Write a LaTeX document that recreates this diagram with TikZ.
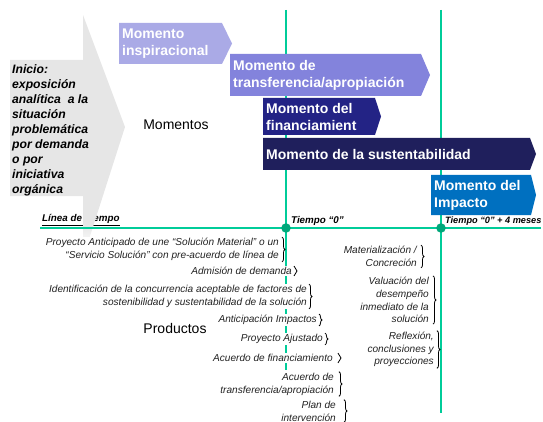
\documentclass[tikz,border=0pt]{standalone}
\usepackage{fontspec}
\setmainfont{Liberation Sans}
\usetikzlibrary{decorations.pathreplacing}
\definecolor{tgreen}{HTML}{00CC99}
\definecolor{tdot}{HTML}{00A77A}
\definecolor{cA}{HTML}{AAAAE6}
\definecolor{cB}{HTML}{8383DC}
\definecolor{cC}{HTML}{232385}
\definecolor{cD}{HTML}{1F1F5C}
\definecolor{cE}{HTML}{0070C0}
\definecolor{agray}{HTML}{E6E6E6}
\definecolor{itemtext}{HTML}{222222}
\pgfdeclareverticalshading{arrowfade}{100bp}{color(0bp)=(white); color(27bp)=(white); color(32bp)=(agray); color(100bp)=(agray)}
\newcommand\momentbox[8]{%
  \fill[#2] (#3,#4) -- (#5,#4) -- ({#5+#8},{(#4+#6)/2}) -- (#5,#6) -- (#3,#6) -- cycle;
  \node[boxtext, anchor=west] (#1) at ({#3+1},{(#4+#6)/2}) {#7};
}
\tikzset{
  x=1pt, y=-1pt,
  boxtext/.style={text=white, font=\fontsize{14}{17}\selectfont\bfseries, align=left, inner sep=2pt},
  item/.style={font=\fontsize{10.1}{12.8}\selectfont\itshape, text=itemtext, align=right, anchor=east, fill=white, inner sep=1pt},
  itembrace/.style={decorate, decoration={brace, amplitude=3pt}, line width=0.8pt},
  tline/.style={draw=tgreen, line width=2pt},
  tdotstyle/.style={circle, fill=tdot, inner sep=0pt, minimum size=9.5pt},
  tlabel/.style={font=\fontsize{9.8}{11}\selectfont\bfseries\itshape, inner sep=1pt},
  bigword/.style={font=\fontsize{14}{16}\selectfont},
}
\begin{document}
\begin{tikzpicture}
\useasboundingbox (0,0) rectangle (543,422);
% vertical time lines
\coordinate (v0top) at (286,10);
\coordinate (v0bot) at (286,370);
\coordinate (v4top) at (441,10);
\coordinate (v4bot) at (441,413);
\draw[tline] (v0top) -- (v0bot);
\draw[tline] (v4top) -- (v4bot);
% products
\node[item] (a1) at (280,249.5) {Proyecto Anticipado de une “Solución Material” o un\\“Servicio Solución” con pre-acuerdo de línea de};
\node[item] (a2) at (293,271) {Admisión de demanda};
\node[item] (a3) at (308,296.5) {Identificación de la concurrencia aceptable de factores de\\sostenibilidad y sustentabilidad de la solución};
\node[item] (a4) at (318,320) {Anticipación Impactos};
\node[item] (a5) at (324,339) {Proyecto Ajustado};
\node[item] (a6) at (334,358) {Acuerdo de financiamiento};
\node[item] (a7) at (335,384) {Acuerdo de\\transferencia/apropiación};
\node[item] (a8) at (337,411) {Plan de\\intervención};
\node[item] (b1) at (418,256.5) {Materialización /\\Concreción};
\node[item] (b2) at (430,300) {Valuación del\\desempeño\\inmediato de la\\solución};
\node[item] (b3) at (435,349.5) {Reflexión,\\conclusiones y\\proyecciones};
\foreach \n/\s in {a1/2pt,a2/1pt,a3/1pt,a4/1pt,a5/1pt,a6/4pt,a7/4pt,a8/7pt,b1/3pt,b2/3pt,b3/2pt}
  \draw[itembrace] ([xshift=\s]\n.north east) -- ([xshift=\s]\n.south east);
% moment boxes
\momentbox{m1}{cA}{119}{23}{222}{64}{Momento\\inspiracional}{10}
\momentbox{m2}{cB}{230}{54}{421}{96}{Momento de\\transferencia/apropiación}{9}
\momentbox{m3}{cC}{263}{98}{375}{135}{Momento del\\financiamient}{6}
\momentbox{m4}{cD}{263}{138}{530}{170}{Momento de la sustentabilidad}{6}
\momentbox{m5}{cE}{431}{175}{531}{215}{Momento del\\Impacto}{5}
% timeline label then big grey arrow
\node[tlabel, anchor=south west] (lt) at (41,227) {\underline{Línea de~ tiempo}};
\begin{scope}
  \clip (0,0) rectangle (543,236);
  \shade[shading=arrowfade] (10,60) -- (83,60) -- (83,15) -- (125,127) -- (83,258) -- (83,196) -- (10,196) -- cycle;
\end{scope}
\node[anchor=north west, align=left, inner sep=0pt, font=\fontsize{12.2}{15}\selectfont\bfseries\itshape] (inicio) at (12,64)
  {Inicio:\\exposición\\analítica~ a la\\situación\\problemática\\por demanda\\o por\\iniciativa\\orgánica};
% timeline
\coordinate (tlstart) at (40,228);
\coordinate (tlend) at (541,228);
\draw[tline] (tlstart) -- (tlend);
\node[tdotstyle] (d0) at (286,228) {};
\node[tdotstyle] (d4) at (441,228) {};
\node[tlabel, anchor=south west] (t0) at (290,227) {Tiempo “0”};
\node[tlabel, anchor=south west, font=\fontsize{9.2}{11}\selectfont\bfseries\itshape] (t4) at (444,227) {Tiempo “0” + 4 meses};
% headings
\node[bigword] (momentos) at (176,125) {Momentos};
\node[bigword] (productos) at (175,328) {Productos};
\end{tikzpicture}
\end{document}
